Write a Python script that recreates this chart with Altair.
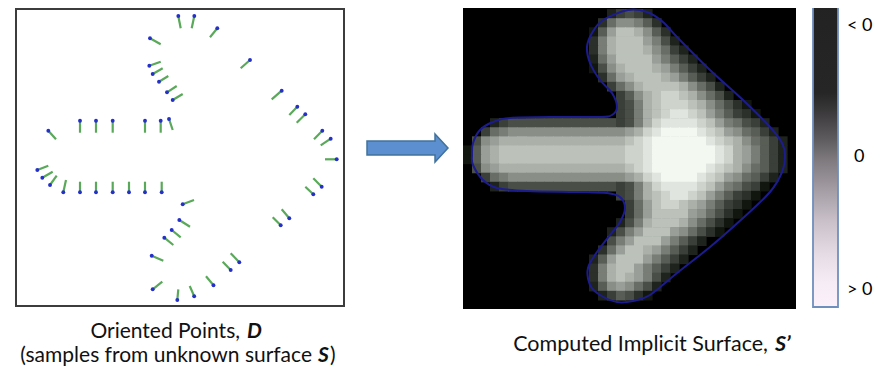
import altair as alt
import pandas as pd

# ---------------- data (figure pixel coordinates) ----------------
# oriented points: blue sample position and the end of its green normal segment
pt_x = [178.3, 194.3, 217.3, 150.0, 250.0, 149.3, 152.7, 159.0, 167.0, 172.7,
        281.7, 297.3, 305.3, 322.3, 330.7, 336.7, 321.7, 313.3, 289.3, 280.7,
        239.3, 230.7, 213.5, 194.2, 177.3, 152.7, 182.7, 179.3, 171.7, 164.3,
        151.7, 80.0, 96.0, 112.7, 145.0, 160.7, 169.0, 48.3, 37.3, 42.3,
        50.0, 63.3, 80.0, 96.0, 112.7, 129.0, 145.0, 161.7]
pt_y = [16.0, 16.0, 28.3, 38.3, 60.0, 65.7, 74.0, 81.7, 92.3, 100.0,
        90.7, 106.7, 114.3, 130.7, 138.7, 159.3, 186.7, 194.3, 218.3, 225.3,
        262.3, 270.0, 285.2, 296.3, 300.0, 289.3, 204.3, 220.0, 230.0, 237.7,
        255.7, 120.7, 120.7, 120.7, 120.7, 120.7, 119.0, 130.7, 170.0, 177.7,
        185.0, 192.3, 192.3, 192.3, 192.3, 192.3, 192.3, 192.3]
end_x = [180.7, 191.7, 210.0, 160.7, 240.7, 160.7, 162.7, 168.3, 176.7, 182.7,
         271.7, 289.3, 296.7, 314.0, 320.7, 325.0, 313.3, 305.3, 281.7, 272.7,
         230.7, 222.7, 206.0, 189.7, 178.3, 162.3, 194.0, 190.0, 180.7, 173.3,
         163.3, 80.0, 96.0, 112.7, 145.0, 160.7, 172.7, 56.0, 48.3, 52.7,
         56.7, 66.0, 80.0, 96.0, 112.7, 129.0, 145.0, 161.7]
end_y = [28.3, 28.3, 37.3, 44.3, 68.3, 61.7, 68.3, 76.0, 86.0, 94.0,
         99.3, 115.0, 122.7, 139.3, 145.3, 159.3, 178.3, 186.7, 209.3, 217.3,
         253.3, 261.7, 276.3, 286.0, 289.3, 281.7, 200.0, 226.7, 237.3, 245.0,
         260.7, 132.7, 132.7, 132.7, 132.7, 132.7, 130.0, 139.3, 165.7, 171.7,
         175.7, 180.0, 181.7, 181.7, 181.7, 181.7, 181.7, 181.7]

# implicit function sampled on a 37 x 34 grid, one hex digit per cell
# (0 = outside / black ... f = brightest)
heat_rows = [
    "0" * 37,
    "0" * 16 + "24542" + "0" * 16,
    "0" * 15 + "3799863" + "0" * 15,
    "0" * 14 + "16accb963" + "0" * 14,
    "0" * 14 + "38bccca852" + "0" * 13,
    "0" * 14 + "38bcccb9742" + "0" * 12,
    "0" * 14 + "27acccca8642" + "0" * 11,
    "0" * 14 + "159bcccba8642" + "0" * 10,
    "0" * 15 + "37abcccba8642" + "0" * 9,
    "0" * 16 + "479bccccb9752" + "0" * 8,
    "0" * 17 + "469bcddcb9752" + "0" * 7,
    "0" * 17 + "458bcdddcb97531" + "0" * 5,
    "0" * 17 + "458bcdeedca86431" + "0" * 4,
    "000" + "24" + "5" * 11 + "5458bdeeeedca87542" + "000",
    "00" + "478" + "9" * 11 + "99abdeffffedca97642" + "00",
    "0" + "59ab" + "b" * 11 + "bbcdeffffffedcb97642" + "0",
    "1" + "6abc" + "c" * 11 + "ccddefffffffedba8642" + "0",
    "1" + "6abc" + "c" * 11 + "ccddefffffffedba8642" + "0",
    "0" + "59ab" + "b" * 11 + "bbcdeffffffedcb97642" + "0",
    "00" + "478" + "9" * 11 + "99abdeffffedca97642" + "00",
    "000" + "24" + "5" * 11 + "5458bdeeeedca87541" + "000",
    "0" * 17 + "458bcdeedca86431" + "0" * 4,
    "0" * 18 + "47acddcba86431" + "0" * 5,
    "0" * 18 + "47acccca97531" + "0" * 6,
    "0" * 17 + "258bcccb97531" + "0" * 7,
    "0" * 16 + "258accca97531" + "0" * 8,
    "0" * 16 + "58accca8642" + "0" * 10,
    "0" * 15 + "37accba8642" + "0" * 11,
    "0" * 14 + "26accca8642" + "0" * 12,
    "0" * 14 + "38bcca8642" + "0" * 13,
    "0" * 14 + "38bcba852" + "0" * 14,
    "0" * 14 + "269a9752" + "0" * 15,
    "0" * 15 + "246531" + "0" * 16,
    "0" * 37,
]

# zero level set (blue contour)
contour_x = [628, 647, 663, 677, 710, 743, 770, 782, 785, 782, 770, 743, 710, 677,
             650, 633, 617, 600, 590, 588, 597, 610, 620, 625, 620, 607, 577, 527,
             497, 483, 473, 472, 473, 480, 493, 510, 560, 600, 612, 617, 612, 600,
             590, 587, 592, 603]
contour_y = [10, 12, 22, 37, 70, 100, 127, 143, 155, 172, 192, 218, 247, 273,
             295, 301, 302, 295, 285, 268, 252, 235, 222, 208, 197, 193, 192, 191,
             188, 180, 165, 155, 143, 130, 122, 118, 117, 117, 115, 107, 93, 80,
             63, 47, 33, 20]

# block arrow between the panels
shaft_x = [367, 436]
shaft_y = [141, 155]
head_x = [435, 448]
head_top = [134, 148]
head_bot = [162, 148]

cbar_labels = ["< 0", "0", "> 0"]
cbar_label_y = [26, 157, 290]
cbar_label_x = [847, 854, 847]

# ---------------- layout helpers ----------------
X0, X1, Y0, Y1 = 8, 883, 8, 367
xs = alt.Scale(domain=[X0, X1], nice=False, zero=False)
ys = alt.Scale(domain=[Y0, Y1], nice=False, zero=False, reverse=True)
FONT = "Lato"


def X(f="x"):
    return alt.X(f"{f}:Q", scale=xs, axis=None)


def Y(f="y"):
    return alt.Y(f"{f}:Q", scale=ys, axis=None)


def box(x, x2, y, y2, **mark):
    return alt.Chart(pd.DataFrame({"x": [x], "x2": [x2], "y": [y], "y2": [y2]})).mark_rect(
        **mark
    ).encode(x=X(), x2="x2:Q", y=Y(), y2="y2:Q")


# left frame
frame = box(16, 344, 9, 306, fill="white", stroke="#3c3c3c", strokeWidth=2)

pts = pd.DataFrame({"x": pt_x, "y": pt_y, "x2": end_x, "y2": end_y})
normals = alt.Chart(pts).mark_rule(color="#5aa85a", strokeWidth=2.2).encode(
    x=X(), y=Y(), x2="x2:Q", y2="y2:Q"
)
dots = alt.Chart(pts).mark_circle(color="#2430c8", size=15, opacity=1).encode(x=X(), y=Y())

# arrow
ARROW_FILL, ARROW_EDGE = "#5b8fcf", "#41719c"
shaft = box(shaft_x[0], shaft_x[1], shaft_y[0], shaft_y[1],
            fill=ARROW_FILL, stroke=ARROW_EDGE, strokeWidth=1.5)
head = alt.Chart(pd.DataFrame({"x": head_x, "y": head_top, "y2": head_bot})).mark_area(
    fill=ARROW_FILL, stroke=ARROW_EDGE, strokeWidth=1.5, opacity=1, orient="vertical"
).encode(x=X(), y=Y(), y2="y2:Q")
joint = box(shaft_x[1] - 3, shaft_x[1] + 2, shaft_y[0] + 0.8, shaft_y[1] - 0.8,
            fill=ARROW_FILL, strokeWidth=0)

# heat map
n_rows, n_cols = len(heat_rows), len(heat_rows[0])
for row in heat_rows:
    assert len(row) == n_cols, row
hx0, hx1, hy0, hy1 = 463, 796, 0, 309
cw, chh = (hx1 - hx0) / n_cols, (hy1 - hy0) / n_rows
cells = []
for r, row in enumerate(heat_rows):
    for c, ch_ in enumerate(row):
        v = int(ch_, 16)
        if v == 0:
            continue
        cells.append({
            "x": hx0 + c * cw, "x2": hx0 + (c + 1) * cw + 0.6,
            "y": hy0 + r * chh, "y2": hy0 + (r + 1) * chh + 0.6,
            "v": v,
        })
heat_bg = box(hx0, hx1, hy0, hy1, fill="#000000", strokeWidth=0)
heat_scale = alt.Scale(domain=[0, 15], range=["#000000", "#f3f9f1"])
heat = alt.Chart(pd.DataFrame(cells)).mark_rect(strokeWidth=0).encode(
    x=X(), x2="x2:Q", y=Y(), y2="y2:Q",
    fill=alt.Fill("v:Q", scale=heat_scale, legend=None),
)

cont = pd.DataFrame({"x": contour_x, "y": contour_y, "i": list(range(len(contour_x)))})
contour = alt.Chart(cont).mark_line(
    color="#1c1c8e", strokeWidth=2, interpolate="cardinal-closed"
).encode(x=X(), y=Y(), order="i:Q")

# colour bar
grad = alt.LinearGradient(
    gradient="linear",
    stops=[
        alt.GradientStop(offset=0.0, color="#222222"),
        alt.GradientStop(offset=0.30, color="#262626"),
        alt.GradientStop(offset=0.37, color="#3e3c3e"),
        alt.GradientStop(offset=0.45, color="#5e5b5e"),
        alt.GradientStop(offset=0.52, color="#7e7a7e"),
        alt.GradientStop(offset=0.62, color="#a59ea5"),
        alt.GradientStop(offset=0.72, color="#c9c0c9"),
        alt.GradientStop(offset=0.83, color="#e6dce6"),
        alt.GradientStop(offset=0.92, color="#f6ecf5"),
        alt.GradientStop(offset=1.0, color="#fcf1fa"),
    ],
    x1=0, x2=0, y1=0, y2=1,
)
cbar = box(813, 838, 1, 307, fill=grad, stroke="#6f8fbd", strokeWidth=1.8)

cbar_text = alt.Chart(pd.DataFrame({"x": cbar_label_x, "y": cbar_label_y, "t": cbar_labels})).mark_text(
    align="left", baseline="middle", font=FONT, fontSize=18, color="#000000"
).encode(x=X(), y=Y(), text="t:N")


def txt(s, x, y, align, bold=False, size=21.5):
    kw = dict(align=align, baseline="alphabetic", font=FONT, fontSize=size, color="#111111")
    if bold:
        kw.update(fontWeight="bold", fontStyle="italic")
    return alt.Chart(pd.DataFrame({"x": [x], "y": [y], "t": [s]})).mark_text(**kw).encode(
        x=X(), y=Y(), text="t:N"
    )


captions = [
    txt("Oriented Points,", 240, 338, "right", size=21),
    txt("D", 247, 338, "left", True, size=21),
    txt("(samples from unknown surface", 312, 362, "right", size=21),
    txt("S", 318, 362, "left", True, size=21),
    txt(")", 330, 362, "left", size=21),
    txt("Computed Implicit Surface,", 768, 351, "right"),
    txt("S\u2019", 775, 351, "left", True),
]

chart = alt.layer(
    frame, normals, dots, shaft, head, joint, heat_bg, heat, contour, cbar, cbar_text, *captions
).properties(
    width=X1 - X0, height=Y1 - Y0, padding=0,
    autosize=alt.AutoSizeParams(type="none"),
    background="white",
).configure_view(stroke=None)

chart.save("out.html", embed_options={"renderer": "svg", "actions": False})
